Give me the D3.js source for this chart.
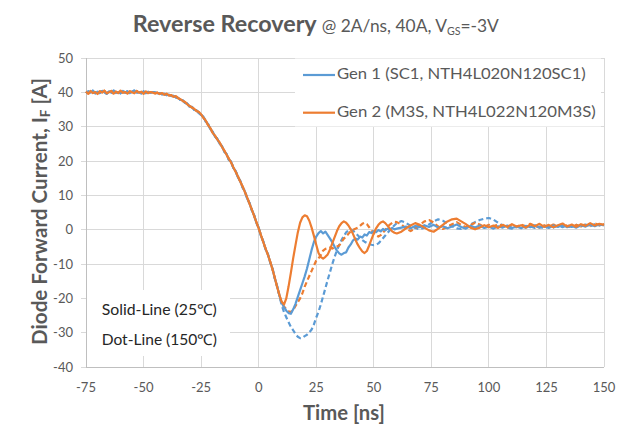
<!DOCTYPE html>
<html><head><meta charset="utf-8">
<script src="https://cdn.jsdelivr.net/npm/d3@7/dist/d3.min.js"></script>
<style>body{margin:0;background:#fff}svg{display:block}text{font-family:Lato,"Open Sans",sans-serif}</style>
</head><body>
<svg id="c" width="637" height="436"></svg>
<script>
// ---------- data ----------
const xTicks = [-75, -50, -25, 0, 25, 50, 75, 100, 125, 150];
const yTicks = [-40, -30, -20, -10, 0, 10, 20, 30, 40, 50];
const legendLabels = ["Gen 1 (SC1, NTH4L020N120SC1)", "Gen 2 (M3S, NTH4L022N120M3S)"];
const noteLabels = ["Solid-Line (25\u2103)", "Dot-Line (150\u2103)"];

// sample times (ns)
const tHead = d3.range(-75, 10, 1);                            // -75 .. 9
const tTail = d3.range(10, 61, 1).concat(d3.range(62, 151, 2)); // 10..60, 62..150

// shared turn-off slope (same for 25C and 150C of one generation)
const headGen1 = [39.8,40.3,39.9,40.5,39.7,40.2,39.8,40.4,40.0,39.6,
  40.3,39.9,40.5,39.8,40.1,39.7,40.4,39.9,40.3,39.8,
  40.2,40.5,39.9,40.1,39.7,40.3,39.8,40.2,39.9,40.1,
  40.0,
  39.7,39.8,39.4,39.6,39.2,39.3,38.9,39.0,38.5,38.4,
  37.8,37.7,36.9,36.7,35.8,35.8,34.9,34.8,34.0,33.4,
  32.9,31.5,30.8,29.3,28.5,27.1,26.5,25.1,24.4,22.8,
  22.1,20.4,19.8,18.0,17.1,15.2,14.2,12.3,11.2,9.1,
  7.8,5.7,4.3,2.0,0.6,-1.8,-3.4,-5.7,-7.1,-9.5,
  -11.3,-14.2,-16.4,-19.2];
const headGen2 = [40.2,39.6,40.4,39.8,40.1,39.5,40.3,39.9,40.5,39.7,
  40.0,40.4,39.6,40.2,39.8,40.5,39.9,40.1,39.6,40.3,
  40.0,39.7,40.4,39.9,40.2,39.6,40.3,39.8,40.1,39.9,
  39.7,
  39.9,39.5,39.8,39.3,39.6,39.1,39.2,38.7,38.9,38.3,
  38.0,37.5,37.2,36.5,36.0,35.6,35.2,34.6,34.3,33.6,
  32.6,31.8,30.5,29.6,28.2,27.4,26.3,25.4,24.2,23.1,
  21.9,20.7,19.6,18.2,16.9,15.5,14.0,12.6,11.0,9.4,
  7.6,5.9,4.1,2.2,0.4,-1.6,-3.6,-5.5,-7.3,-9.3,
  -11.5,-14.0,-16.6,-19.0];

const tailGen1_25 = [-21.3,-22.6,-23.6,-24.3,-24.5,-23.2,-21.6,-19.6,-17.6,-15.6,
  -13.6,-11.3,-8.6,-5.9,-3.6,-2.0,-1.0,-0.4,-1.1,-0.6,
  -1.6,-2.6,-3.7,-5.0,-6.1,-6.9,-7.3,-6.8,-6.6,-5.2,
  -4.3,-3.1,-2.6,-2.9,-2.0,-2.3,-1.4,-1.7,-0.7,-1.0,
  -0.4,-0.7,-0.1,-0.5,0.2,-0.2,0.3,0.0,0.5,0.1,
  0.3,
  0.6,0.9,0.4,1.1,0.7,1.3,0.8,1.4,0.6,1.0,
  0.4,0.9,1.5,0.8,0.3,1.1,0.6,1.2,0.5,0.9,
  0.3,1.0,0.6,1.2,0.5,0.9,0.4,1.1,0.7,1.3,
  0.6,1.0,0.5,1.2,0.8,1.4,0.7,1.1,0.6,1.3,
  0.9,1.5,1.0,1.6,1.2];
const tailGen2_25 = [-21.0,-21.8,-20.0,-16.5,-12.5,-8.3,-4.5,-0.8,2.0,3.6,
  4.2,3.9,2.6,0.6,-1.8,-4.4,-6.8,-8.0,-8.4,-7.9,
  -7.2,-5.8,-3.9,-2.2,-0.4,1.0,1.9,2.4,2.0,1.2,
  0.1,-1.3,-2.9,-4.3,-5.4,-6.3,-6.8,-6.2,-4.6,-2.8,
  -1.1,0.4,1.4,2.1,2.4,1.9,1.1,0.3,-0.5,-0.9,
  -1.1,
  -0.6,0.4,1.2,1.9,1.4,0.6,-0.2,-0.6,0.3,1.4,
  2.4,3.0,3.2,2.4,1.6,0.6,0.1,0.6,1.3,0.7,
  1.2,0.5,1.4,0.8,1.6,0.9,1.3,0.6,1.5,1.0,
  1.7,0.8,1.4,0.7,1.3,1.8,0.9,1.5,0.8,1.6,
  1.1,1.9,1.2,1.7,1.4];
const tailGen1_150 = [-22.0,-24.0,-25.5,-27.0,-28.3,-29.3,-30.4,-31.2,-31.6,-31.5,
  -31.0,-30.6,-29.9,-29.1,-27.6,-25.6,-23.9,-21.8,-19.4,-17.0,
  -14.6,-12.3,-10.0,-7.9,-6.0,-4.4,-3.0,-1.8,-0.8,-0.2,
  0.1,-0.3,-0.9,-1.6,-2.4,-3.0,-3.5,-3.9,-4.2,-4.4,
  -4.5,-4.4,-4.0,-3.3,-2.5,-1.7,-0.9,-0.2,0.6,1.3,
  1.9,
  2.5,2.0,1.1,0.5,0.1,0.6,1.5,2.4,3.0,2.6,
  1.8,1.0,0.4,0.2,0.8,1.5,2.2,2.8,3.2,3.4,
  2.9,2.0,1.2,0.6,0.3,0.7,1.1,0.6,1.0,0.5,
  0.9,0.4,1.0,0.6,1.2,0.7,1.3,0.8,1.4,0.9,
  1.5,1.0,1.6,1.2,1.7];
const tailGen2_150 = [-21.4,-22.4,-23.2,-23.8,-24.0,-23.4,-22.2,-21.1,-20.0,-18.5,
  -16.6,-15.0,-13.5,-12.0,-10.5,-9.0,-8.4,-7.4,-6.1,-5.6,
  -5.4,-5.2,-5.5,-5.1,-4.9,-4.6,-3.6,-2.6,-2.0,-1.2,
  -0.5,0.0,0.3,0.6,1.1,1.7,2.0,1.6,0.7,-0.2,
  -1.0,-1.7,-2.0,-1.6,-0.9,0.0,0.8,1.5,2.0,2.3,
  2.2,
  1.5,0.3,-0.4,0.4,1.4,2.4,2.8,2.1,0.9,0.2,
  0.8,1.6,2.2,1.4,0.7,1.3,2.0,1.5,0.8,1.4,
  0.9,1.6,1.1,0.6,1.3,0.8,1.5,1.0,1.7,1.1,
  0.6,1.3,0.8,1.5,1.0,1.6,1.1,0.7,1.4,0.9,
  1.6,1.2,1.8,1.3,1.6];

const BLUE = "#5b9bd5", ORANGE = "#ed7d31";
const tAll = tHead.concat(tTail);
const series = [
  {v: headGen1.concat(tailGen1_150), color: BLUE, dash: "5,3"},
  {v: headGen2.concat(tailGen2_150), color: ORANGE, dash: "5,3"},
  {v: headGen1.concat(tailGen1_25), color: BLUE, dash: null},
  {v: headGen2.concat(tailGen2_25), color: ORANGE, dash: null}
];

// ---------- chart ----------
const svg = d3.select("#c");
const x = d3.scaleLinear().domain([-75, 150]).range([86, 604]);
const y = d3.scaleLinear().domain([-40, 50]).range([367, 58]);
const GRID = "#d9d9d9", TXT = "#595959";

function fit(sel, target, ax) {
  const w = sel.node().getBBox().width;
  const s = target / w;
  sel.attr("transform", `translate(${ax},0) scale(${s},1) translate(${-ax},0)`);
}

// grid
svg.append("g").selectAll("line").data(yTicks).join("line")
  .attr("x1", 81).attr("x2", x(150)).attr("y1", d => y(d)).attr("y2", d => y(d))
  .attr("stroke", GRID).attr("stroke-width", 1).attr("shape-rendering", "crispEdges");
svg.append("g").selectAll("line").data(xTicks).join("line")
  .attr("x1", d => x(d)).attr("x2", d => x(d)).attr("y1", y(50)).attr("y2", y(-40))
  .attr("stroke", GRID).attr("stroke-width", 1).attr("shape-rendering", "crispEdges");
// axes lines
svg.append("line").attr("x1", x(-75)).attr("x2", x(-75)).attr("y1", y(50)).attr("y2", y(-40))
  .attr("stroke", "#bfbfbf").attr("shape-rendering", "crispEdges");
svg.append("line").attr("x1", x(-75)).attr("x2", x(150)).attr("y1", y(-40)).attr("y2", y(-40))
  .attr("stroke", "#bfbfbf").attr("shape-rendering", "crispEdges");

// tick labels
svg.append("g").selectAll("text").data(yTicks).join("text")
  .attr("x", 73).attr("y", d => y(d)).attr("dy", "0.36em")
  .attr("text-anchor", "end").attr("font-size", 13).attr("fill", TXT).text(d => d);
svg.append("g").selectAll("text").data(xTicks).join("text")
  .attr("x", d => x(d)).attr("y", 392)
  .attr("text-anchor", "middle").attr("font-size", 13).attr("fill", TXT).text(d => d);

// lines
const line = d3.line().x((d, i) => x(tAll[i])).y(d => y(d));
svg.append("g").selectAll("path").data(series).join("path")
  .attr("d", d => line(d.v))
  .attr("fill", "none").attr("stroke", d => d.color).attr("stroke-width", 2.2)
  .attr("stroke-linejoin", "round")
  .attr("stroke-dasharray", d => d.dash);

// legend
svg.append("rect").attr("x", 295).attr("y", 58.5).attr("width", 306).attr("height", 68).attr("fill", "#fff");
const legY = [75, 112.7], legW = [249, 259];
legendLabels.forEach((lab, i) => {
  svg.append("line").attr("x1", 303).attr("x2", 335).attr("y1", legY[i]).attr("y2", legY[i])
    .attr("stroke", i === 0 ? BLUE : ORANGE).attr("stroke-width", 2.2);
  const t = svg.append("text").attr("x", 337).attr("y", legY[i] + 4.5)
    .attr("font-size", 16).attr("fill", TXT).text(lab);
  fit(t, legW[i], 337);
});

// note box
svg.append("rect").attr("x", 87).attr("y", 290).attr("width", 143).attr("height", 66).attr("fill", "#fff");
noteLabels.forEach((lab, i) => {
  const t = svg.append("text").attr("x", 101.7).attr("y", 315 + i * 30)
    .attr("font-size", 15).attr("fill", "#262626").text(lab);
  fit(t, 115.5, 101.7);
});

// title
const t1 = svg.append("text").attr("x", 132.7).attr("y", 31.7)
  .attr("font-size", 23).attr("font-weight", 700).attr("fill", TXT).text("Reverse Recovery");
fit(t1, 185, 132.7);
const t2 = svg.append("text").attr("x", 321.7).attr("y", 31.7)
  .attr("font-size", 18).attr("fill", TXT);
t2.append("tspan").text("@ 2A/ns, 40A, V");
t2.append("tspan").attr("font-size", 11).attr("dy", 3).text("GS");
t2.append("tspan").attr("dy", -3).text("=-3V");
fit(t2, 178, 321.7);

// x axis title
const xt = svg.append("text").attr("x", 344).attr("y", 420)
  .attr("text-anchor", "middle").attr("font-size", 20).attr("font-weight", 700)
  .attr("fill", TXT).text("Time [ns]");
fit(xt, 82, 344);

// y axis title
const gy = svg.append("g").attr("transform", "translate(46.5,211.5) rotate(-90)");
const yt = gy.append("text").attr("x", 0).attr("y", 0).attr("text-anchor", "middle")
  .attr("font-size", 20).attr("font-weight", 700).attr("fill", TXT);
yt.append("tspan").text("Diode Forward Current, I");
yt.append("tspan").attr("font-size", 13).attr("dy", 3).text("F");
yt.append("tspan").attr("dy", -3).text(" [A]");
fit(yt, 267, 0);
</script>
</body></html>
